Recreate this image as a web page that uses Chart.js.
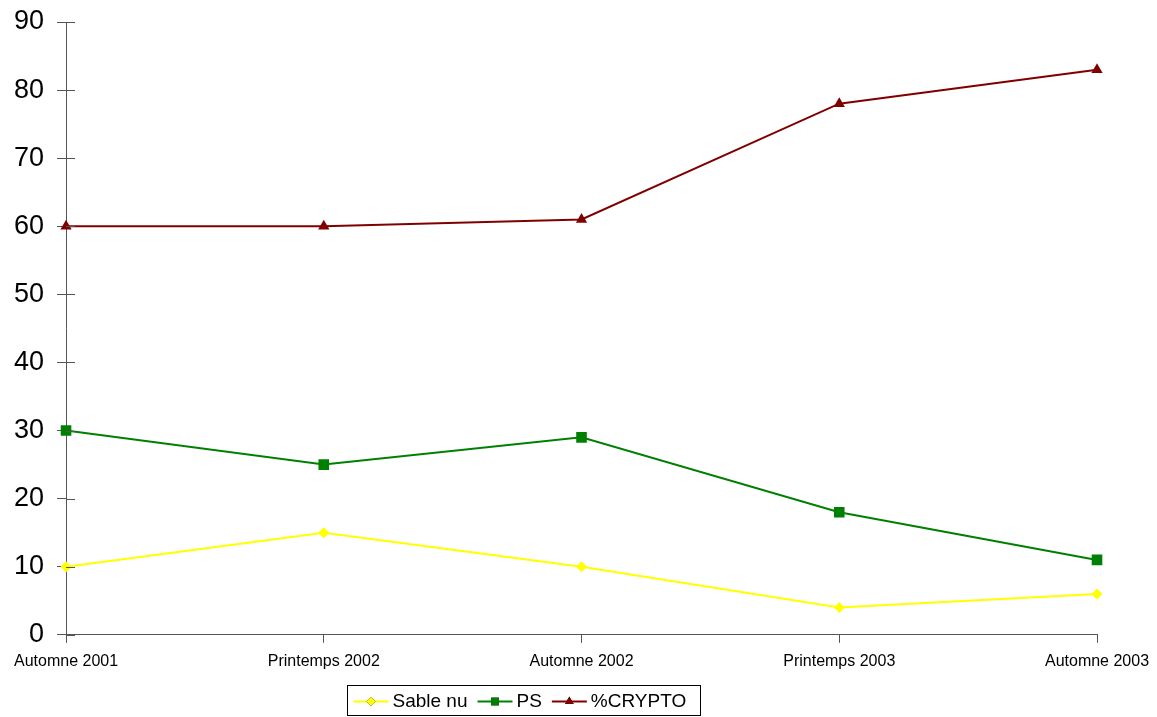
<!DOCTYPE html>
<html>
<head>
<meta charset="utf-8">
<script src="https://cdn.jsdelivr.net/npm/chart.js@4/dist/chart.umd.min.js"></script>
<style>
  html, body { margin: 0; padding: 0; background: #fff; }
  #wrap { width: 1157px; height: 717px; }
</style>
</head>
<body>
<div id="wrap"><canvas id="lineChart" width="1157" height="717"></canvas></div>
<script>
// données
var saisons = ['Automne 2001', 'Printemps 2002', 'Automne 2002', 'Printemps 2003', 'Automne 2003'];
var sableNu = [10, 15, 10, 4, 6];
var psVals = [30, 25, 29, 18, 11];
var cryptoVals = [60, 60, 61, 78, 83];
var yTicks = [0, 10, 20, 30, 40, 50, 60, 70, 80, 90];

var axisColor = '#555555';

// petits traits vers l'intérieur sur l'axe Y + légende encadrée façon Excel
var excelExtras = {
    id: 'excelExtras',
    afterDraw: function(chart) {
        var ctx = chart.ctx;
        var y = chart.scales.y;
        var area = chart.chartArea;
        ctx.save();
        ctx.strokeStyle = axisColor;
        ctx.lineWidth = 1;
        yTicks.forEach(function(v) {
            var py = Math.round(y.getPixelForValue(v)) + 0.5;
            ctx.beginPath();
            ctx.moveTo(area.left, py);
            ctx.lineTo(area.left + 9, py);
            ctx.stroke();
        });

        // légende
        var boxX = 347.5, boxY = 685.5, boxW = 353, boxH = 30;
        ctx.strokeStyle = '#000';
        ctx.strokeRect(boxX, boxY, boxW, boxH);
        ctx.font = '19px "Liberation Sans", Arial, sans-serif';
        ctx.textBaseline = 'middle';
        ctx.fillStyle = '#000';
        var cy = boxY + boxH / 2 + 1;
        var x = boxX + 6;
        var legendRadius = [4.5, 5.5, 5];
        chart.data.datasets.forEach(function(ds, i) {
            ctx.strokeStyle = ds.borderColor;
            ctx.lineWidth = 2;
            ctx.beginPath();
            ctx.moveTo(x, cy);
            ctx.lineTo(x + 35, cy);
            ctx.stroke();
            Chart.helpers.drawPoint(ctx, {
                pointStyle: ds.pointStyle,
                radius: legendRadius[i],
                borderWidth: 0
            }, x + 17.5, cy);
            ctx.fillStyle = ds.pointBackgroundColor;
            ctx.fill();
            ctx.fillStyle = '#000';
            ctx.fillText(ds.label, x + 39, cy);
            x += 39 + ctx.measureText(ds.label).width + 10;
        });
        ctx.restore();
    }
};

var ctx = document.getElementById('lineChart').getContext('2d');
new Chart(ctx, {
    type: 'line',
    data: {
        labels: saisons,
        datasets: [{
            label: 'Sable nu',
            data: sableNu,
            borderColor: '#FFFF00',
            backgroundColor: '#FFFF00',
            pointBackgroundColor: '#FFFF00',
            pointBorderWidth: 0,
            pointStyle: 'rectRot',
            pointRadius: 5.5,
            borderWidth: 2,
            tension: 0
        }, {
            label: 'PS',
            data: psVals,
            borderColor: '#008000',
            backgroundColor: '#008000',
            pointBackgroundColor: '#008000',
            pointBorderWidth: 0,
            pointStyle: 'rect',
            pointRadius: 7.5,
            borderWidth: 2,
            tension: 0
        }, {
            label: '%CRYPTO',
            data: cryptoVals,
            borderColor: '#800000',
            backgroundColor: '#800000',
            pointBackgroundColor: '#800000',
            pointBorderWidth: 0,
            pointStyle: 'triangle',
            pointRadius: 6.5,
            borderWidth: 2,
            tension: 0
        }]
    },
    options: {
        responsive: false,
        animation: false,
        layout: {
            padding: { left: 1, right: 60, top: 22, bottom: 37 }
        },
        plugins: {
            legend: { display: false },
            tooltip: { enabled: false }
        },
        scales: {
            x: {
                offset: false,
                afterFit: function(scale) {
                    scale.paddingLeft = 0;
                    scale.paddingRight = 0;
                },
                grid: {
                    drawOnChartArea: false,
                    drawTicks: true,
                    tickLength: 8,
                    color: axisColor
                },
                border: { color: axisColor, width: 1 },
                ticks: {
                    color: '#000',
                    padding: 9,
                    maxRotation: 0,
                    autoSkip: false,
                    font: { family: '"Liberation Sans", Arial, sans-serif', size: 16 }
                }
            },
            y: {
                min: 0,
                max: 90,
                afterFit: function(scale) {
                    scale.paddingTop = 0;
                    scale.paddingBottom = 0;
                },
                afterBuildTicks: function(scale) {
                    scale.ticks = yTicks.map(function(v) { return { value: v }; });
                },
                grid: {
                    drawOnChartArea: false,
                    drawTicks: true,
                    tickLength: 9,
                    color: axisColor
                },
                border: { color: axisColor, width: 1 },
                ticks: {
                    color: '#000',
                    padding: 13,
                    font: { family: '"Liberation Sans", Arial, sans-serif', size: 27 }
                }
            }
        }
    },
    plugins: [excelExtras]
});
</script>
</body>
</html>
